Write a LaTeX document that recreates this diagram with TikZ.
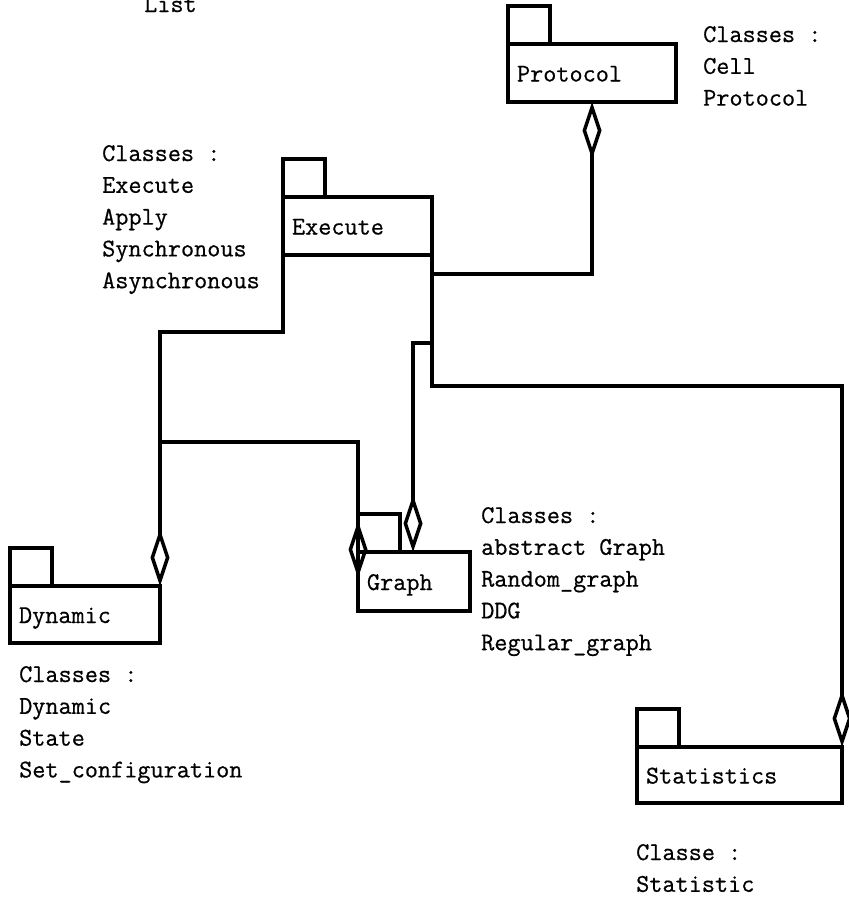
\documentclass[tikz,border=0pt]{standalone}
\usepackage{fontspec}
\usetikzlibrary{arrows.meta}
\newfontfamily\mfam{Latin Modern Mono}[BoldFont={Latin Modern Mono}, BoldFeatures={FakeBold=0.6}]
\newcommand\mfont{\fontsize{25.5}{31.8}\selectfont\mfam\bfseries}
\newcommand\clslist[1]{\begin{tabular}[t]{@{}l@{}}#1\end{tabular}}
\tikzset{
  pkgbox/.style={draw, line width=4pt, outer sep=0pt, anchor=north west, inner ysep=0pt,
    inner xsep=9pt, align=left, text height=17pt, text depth=0pt, font=\mfont},
  pkgtab/.style={draw, line width=4pt, outer sep=0pt, anchor=south west, inner sep=0pt,
    minimum width=42pt, minimum height=38pt},
  lbl/.style={anchor=base west, inner sep=0pt, font=\mfont},
  agg/.style={line width=3.5pt, line join=miter, -{Diamond[open, length=57pt, width=19pt]}}
}
\begin{document}
\begin{tikzpicture}[x=1pt,y=-1pt]
\useasboundingbox (0,0) rectangle (849,903);
\clip (0,0) rectangle (849,903);
% packages
\node[pkgbox, minimum width=168pt, minimum height=58pt, text width=150pt] (proto) at (508,44) {Protocol};
\node[pkgtab] (protoTab) at (proto.north west) {};
\node[pkgbox, minimum width=149pt, minimum height=58pt, text width=131pt] (exe) at (283,197) {Execute};
\node[pkgtab] (exeTab) at (exe.north west) {};
\node[pkgbox, minimum width=112pt, minimum height=59pt, text width=94pt] (graph) at (358,552) {Graph};
\node[pkgtab] (graphTab) at (graph.north west) {};
\node[pkgbox, minimum width=150pt, minimum height=57pt, text width=132pt] (dyn) at (10,586) {Dynamic};
\node[pkgtab] (dynTab) at (dyn.north west) {};
\node[pkgbox, minimum width=205pt, minimum height=56pt, text width=187pt] (stats) at (637,747) {Statistics};
\node[pkgtab] (statsTab) at (stats.north west) {};
% labels
\node[lbl] (listL) at (144,12) {List};
\node[lbl] (protoL) at (703,42) {\clslist{Classes :\\Cell\\Protocol}};
\node[lbl] (exeL) at (102,161) {\clslist{Classes :\\Execute\\Apply\\Synchronous\\Asynchronous}};
\node[lbl] (graphL) at (481,523) {\clslist{Classes :\\abstract Graph\\Random\_graph\\DDG\\Regular\_graph}};
\node[lbl] (dynL) at (19,682) {\clslist{Classes :\\Dynamic\\State\\Set\_configuration}};
\node[lbl] (statL) at (636,860) {\clslist{Classe :\\Statistic}};
% junction coordinates
\coordinate (jP) at (432,274);
\coordinate (jG) at (432,343);
\coordinate (jS) at (842,386);
\coordinate (jD) at (160,332);
\coordinate (jDG) at (160,442);
\coordinate (gTop) at (413,552);
\coordinate (gLeft) at (358,578);
% connectors
\draw[agg] (exe.south east) |- (jS) -- (stats.north east);
\draw[agg] (jP) -| (proto.south);
\draw[agg] (jG) -| (gTop);
\draw[agg] (exe.south west) |- (jD) -- (dyn.north east);
\draw[agg] (jDG) -| (gLeft);
\end{tikzpicture}
\end{document}
